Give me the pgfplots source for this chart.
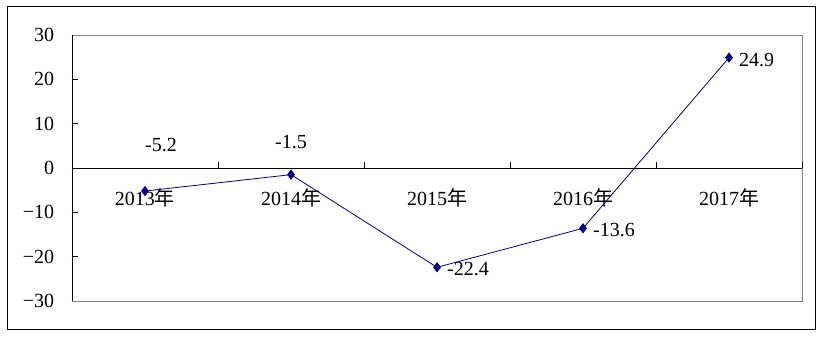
\documentclass[border=0pt]{standalone}
\usepackage{pgfplots}
\pgfplotsset{compat=1.18}
\usepackage{pgfplotstable}
\usepackage{fontspec}
\setmainfont{Liberation Serif}
\newfontfamily\cjk{Noto Sans CJK SC}
\definecolor{lineblue}{RGB}{0,0,128}
\definecolor{boxgray}{RGB}{128,128,128}
\newcommand\chartfont{\fontsize{20bp}{24bp}\selectfont}

% growth rate by year
\pgfplotstableread{
idx val   lab
0   -5.2  -5.2
1   -1.5  -1.5
2  -22.4  -22.4
3  -13.6  -13.6
4   24.9  24.9
}\growth

\begin{document}
\chartfont
\begin{tikzpicture}
\path[use as bounding box] (-72bp,-36bp) rectangle (751bp,301bp);
\draw[black, line width=1bp] (-64bp,-28bp) rectangle (743bp,294bp);
\begin{axis}[
  name=ax,
  at={(0,0)}, anchor=south west,
  scale only axis,
  width=730bp, height=266bp,
  xmin=-0.5, xmax=4.5,
  ymin=-30, ymax=30,
  ytick={-30,-20,-10,0,10,20,30},
  yticklabels={−30,−20,−10,0,10,20,30},
  xtick=\empty,
  ytick pos=left,
  tick align=inside,
  major tick length=6bp,
  tick style={black, line width=0.8bp},
  axis line style={boxgray, line width=0.8bp},
  yticklabel style={font=\chartfont, xshift=-11bp},
  clip=false,
  lbl/.style={draw=none, mark=none, point meta=explicit symbolic,
    nodes near coords,
    every node near coord/.append style={black, inner sep=0pt,
      font=\chartfont, #1}},
]
% left spine and zero line
\draw[black, line width=0.8bp] (rel axis cs:0,0) -- (rel axis cs:0,1);
\draw[black, line width=0.8bp] (axis cs:-0.5,0) -- (axis cs:4.5,0);
\foreach \t in {0.5,1.5,2.5,3.5,4.5}{
  \edef\tmp{\noexpand\draw[black, line width=0.8bp] (axis cs:\t,0) -- ([yshift=6bp]axis cs:\t,0);}\tmp
}
% category names below the zero line
\node[font=\chartfont] at ([yshift=-30bp]axis cs:0,0) {2013{\cjk 年}};
\node[font=\chartfont] at ([yshift=-30bp]axis cs:1,0) {2014{\cjk 年}};
\node[font=\chartfont] at ([yshift=-30bp]axis cs:2,0) {2015{\cjk 年}};
\node[font=\chartfont] at ([yshift=-30bp]axis cs:3,0) {2016{\cjk 年}};
\node[font=\chartfont] at ([yshift=-30bp]axis cs:4,0) {2017{\cjk 年}};

\addplot[
  lineblue, line width=0.8bp,
  mark=diamond*, mark size=4.5bp,
  mark options={fill=lineblue, draw=lineblue},
] table[x=idx, y=val] {\growth};

% value labels
\addplot[lbl={anchor=center, xshift=16bp, yshift=46bp},
  skip coords between index={1}{5}] table[x=idx, y=val, meta=lab] {\growth};
\addplot[lbl={anchor=center, yshift=33bp},
  skip coords between index={0}{1}, skip coords between index={2}{5}]
  table[x=idx, y=val, meta=lab] {\growth};
\addplot[lbl={anchor=west, xshift=10bp, yshift=-2bp},
  skip coords between index={0}{2}] table[x=idx, y=val, meta=lab] {\growth};
\end{axis}
\end{tikzpicture}
\end{document}
